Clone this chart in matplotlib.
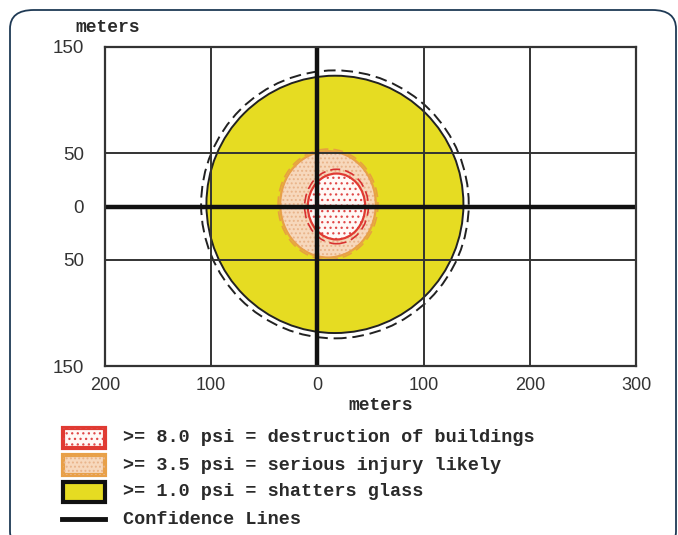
import matplotlib
matplotlib.use("Agg")
import matplotlib.pyplot as plt
from matplotlib.patches import Ellipse, Rectangle, FancyBboxPatch
from matplotlib.lines import Line2D

# Blast overpressure zones (meters): center and radii of each contour
zone_labels = [">= 8.0 psi = destruction of buildings",
               ">= 3.5 psi = serious injury likely",
               ">= 1.0 psi = shatters glass"]
center_x = [18, 10, 16.5]
center_y = [0, 2, 2]
radius_x = [27, 45, 121]
radius_y = [31, 50, 121]
# confidence contour radii (slightly outside each zone)
conf_radius_x = [30, 47, 126]
conf_radius_y = [35, 52, 126]

x_ticks = [-200, -100, 0, 100, 200, 300]
y_ticks = [-150, -50, 0, 50, 150]

fill_colors = ["#fff8f6", "#f7d8bc", "#e6dc22"]
edge_colors = ["#e03a32", "#e8a048", "#222222"]
dot_colors = ["#e04848", "#e9b48a", None]
dot_hatch = ["...", "....", None]
conf_colors = ["#d83030", "#e6a040", "#222222"]

W, H = 678, 535
fig = plt.figure(figsize=(W / 100, H / 100), dpi=100)

# rounded frame around the whole figure
frame = FancyBboxPatch((10 / W, 1 - 550 / H), 666 / W, 540 / H,
                       boxstyle="round,pad=0,rounding_size=0.035",
                       transform=fig.transFigure, fill=False,
                       edgecolor="#1f3a55", linewidth=1.3)
frame.set_clip_on(False)
fig.add_artist(frame)

ax = fig.add_axes([105 / W, 1 - 366 / H, 531 / W, 319 / H])
ax.set_xlim(-200, 300)
ax.set_ylim(-150, 150)

plt.rcParams["hatch.linewidth"] = 0.9

# draw zones from largest to smallest
for i in [2, 1, 0]:
    z = 1 + (2 - i)
    ax.add_patch(Ellipse((center_x[i], center_y[i]), 2 * radius_x[i], 2 * radius_y[i],
                         facecolor=fill_colors[i], edgecolor="none", zorder=z))
    if dot_colors[i]:
        ax.add_patch(Ellipse((center_x[i], center_y[i]), 2 * radius_x[i], 2 * radius_y[i],
                             facecolor="none", edgecolor=dot_colors[i], linewidth=0,
                             hatch=dot_hatch[i], zorder=z + 0.1))
    ax.add_patch(Ellipse((center_x[i], center_y[i]), 2 * radius_x[i], 2 * radius_y[i],
                         facecolor="none", edgecolor=edge_colors[i],
                         linewidth=1.4 if i == 2 else 1.6, zorder=z + 0.2))
    ax.add_patch(Ellipse((center_x[i], center_y[i]), 2 * conf_radius_x[i], 2 * conf_radius_y[i],
                         facecolor="none", edgecolor=conf_colors[i],
                         linewidth=1.4 if i == 2 else 1.2,
                         linestyle=(0, (6, 3)), zorder=z + 0.3))

# grid and thick origin axes on top
for xv in [-100, 100, 200]:
    ax.axvline(xv, color="#333333", linewidth=1.4, zorder=6)
for yv in [-50, 50]:
    ax.axhline(yv, color="#333333", linewidth=1.4, zorder=6)
ax.axvline(0, color="#111111", linewidth=3.2, zorder=7)
ax.axhline(0, color="#111111", linewidth=3.2, zorder=7)

for s in ax.spines.values():
    s.set_color("#333333")
    s.set_linewidth(1.6)
    s.set_zorder(8)

ax.set_xticks(x_ticks)
ax.set_xticklabels([str(abs(v)) for v in x_ticks], family="Liberation Sans",
                   fontsize=13, color="#333333")
ax.set_yticks(y_ticks)
ax.set_yticklabels([str(abs(v)) for v in y_ticks], family="Liberation Sans",
                   fontsize=13.5, color="#333333")
ax.tick_params(axis="x", length=0, pad=8)
ax.tick_params(axis="y", length=0, pad=15)

mono = dict(family="Liberation Mono", weight="bold", color="#2a2a2a")
fig.text(108 / W, 1 - 27 / H, "meters", ha="center", va="center", fontsize=13, **mono)
fig.text(381 / W, 1 - 405 / H, "meters", ha="center", va="center", fontsize=13, **mono)

# legend
rows_y = [438, 465, 492, 519]
for i in range(3):
    yc = rows_y[i]
    rect = Rectangle((63 / W, 1 - (yc + 10) / H), 42 / W, 20 / H,
                     transform=fig.transFigure, facecolor=fill_colors[i],
                     edgecolor=edge_colors[i] if i < 2 else "#111111",
                     linewidth=3.0, clip_on=False)
    fig.add_artist(rect)
    if dot_colors[i]:
        hrect = Rectangle((63 / W, 1 - (yc + 10) / H), 42 / W, 20 / H,
                          transform=fig.transFigure, facecolor="none",
                          edgecolor=dot_colors[i], linewidth=0,
                          hatch=dot_hatch[i], clip_on=False)
        fig.add_artist(hrect)
    fig.text(123 / W, 1 - yc / H, zone_labels[i], ha="left", va="center",
             fontsize=13.3, **mono)
fig.add_artist(Line2D([62 / W, 105 / W], [1 - rows_y[3] / H] * 2,
                      transform=fig.transFigure, color="#111111", linewidth=3.5))
fig.text(123 / W, 1 - rows_y[3] / H, "Confidence Lines", ha="left", va="center",
         fontsize=13.3, **mono)

fig.savefig("out.png", dpi=100)
